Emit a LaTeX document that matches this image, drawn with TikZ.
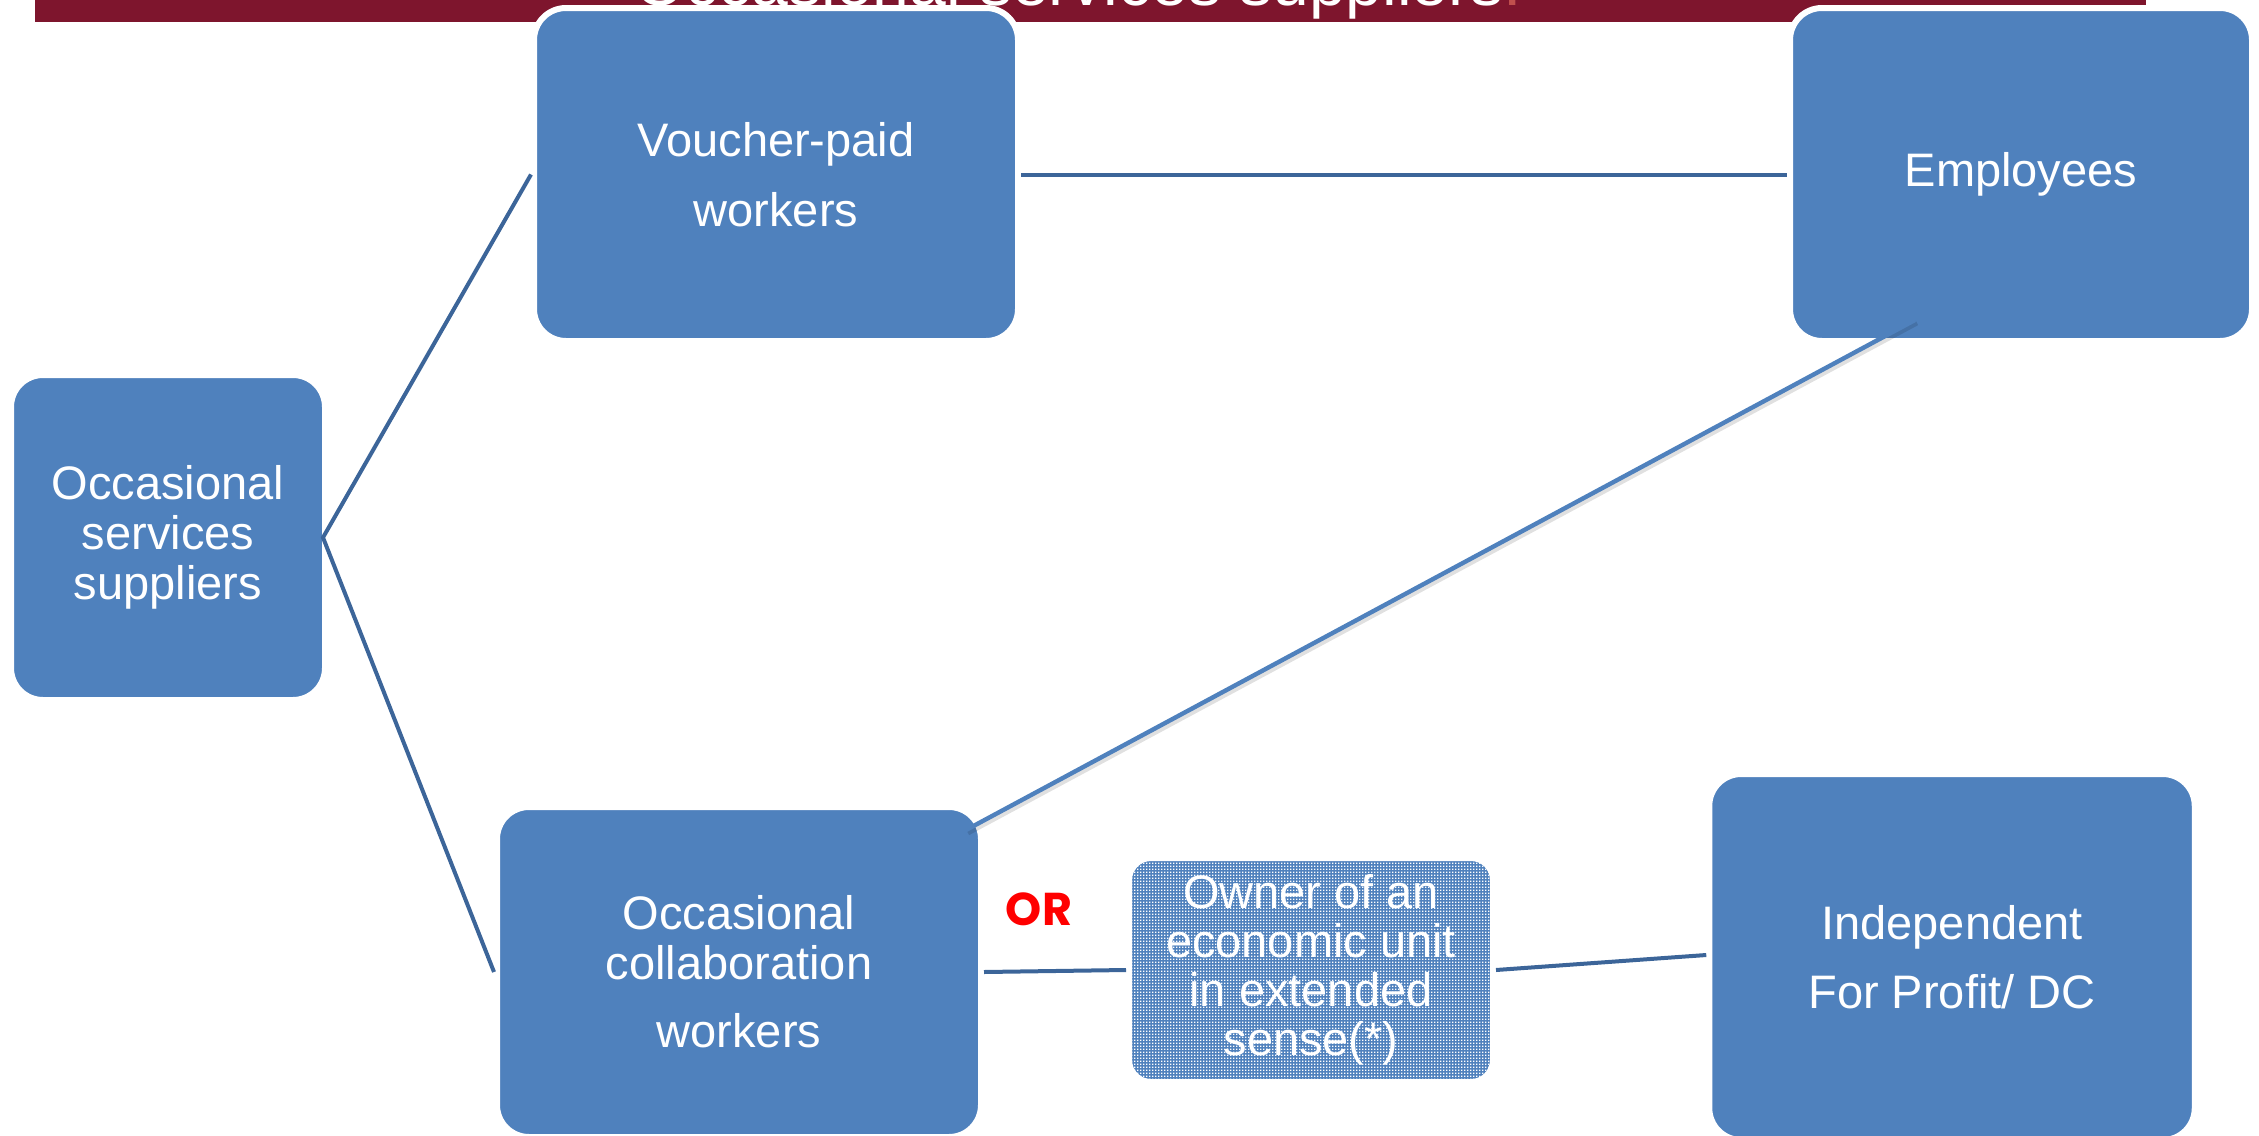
\documentclass[tikz,border=0pt]{standalone}
\usepackage{fontspec}
\setmainfont{Liberation Sans}
\newfontfamily\orfont{Poppins}
\usetikzlibrary{calc,patterns}
\definecolor{boxblue}{HTML}{4F81BD}
\definecolor{linkblue}{HTML}{3C6599}
\definecolor{banner}{HTML}{7E152D}
\definecolor{dotred}{HTML}{C0504D}
\pgfdeclarepatternformonly{whitesquares}{\pgfpointorigin}{\pgfqpoint{1.65pt}{1.65pt}}{\pgfqpoint{1.65pt}{1.65pt}}{%
  \pgfpathrectangle{\pgfpointorigin}{\pgfqpoint{0.85pt}{0.85pt}}%
  \pgfusepath{fill}%
}
\tikzset{
  box/.style={draw=white, line width=3pt, fill=boxblue, rounded corners=16pt,
    inner sep=0pt, align=center, text=white,
    font=\fontsize{23.5}{25}\selectfont},
  hatchbox/.style={draw=white, line width=3pt, preaction={fill=boxblue},
    pattern=whitesquares, pattern color=white, rounded corners=11pt,
    inner sep=0pt, align=center, text=white,
    font=\fontsize{23.5}{24.5}\selectfont},
  link/.style={draw=linkblue, line width=2pt},
  longlink/.style={draw=boxblue, line width=2.2pt},
  shadowlink/.style={draw=black, opacity=0.12, line width=2.4pt},
}
\begin{document}
\begin{tikzpicture}[x=0.5pt,y=-0.5pt]
\useasboundingbox (0,0) rectangle (2259,1135);
% banner with title
\fill[banner] (35,0) rectangle (2146,22);
\node[anchor=base west, inner sep=0pt, text=white, font=\fontsize{33}{33}\selectfont]
  (title) at (634,5) {Occasional services suppliers{\color{dotred}.}};
% boxes
\node[box, minimum width=157pt, minimum height=162.5pt] (sup) at (168,537.5)
  {Occasional\\services\\suppliers};
\node[box, minimum width=242pt, minimum height=166.5pt,
  font=\fontsize{23.5}{35}\selectfont] (vou) at (776,174.5)
  {Voucher-paid\\workers};
\node[box, minimum width=231pt, minimum height=166.5pt] (emp) at (2021,174.5)
  {Employees};
\node[box, minimum width=242pt, minimum height=165pt] (occ) at (739,972)
  {Occasional\\collaboration\\[9pt]workers};
\node[hatchbox, minimum width=182pt, minimum height=112pt] (own) at (1311,970)
  {Owner of an\\economic unit\\in extended\\sense(*)};
\node[box, minimum width=242.75pt, minimum height=183pt,
  font=\fontsize{23.5}{34.5}\selectfont] (ind) at (1952,957)
  {Independent\\For Profit/ DC};
\node[text=red, inner sep=0pt, font=\orfont\bfseries\fontsize{23}{23}\selectfont]
  (or) at (1039,909) {OR};
% connectors
\coordinate (fork) at ($(sup.east)+(-5,0)$);
\draw[link] (vou.west) -- (fork) -- (occ.west);
\draw[link] (vou.east) -- (emp.west);
\draw[link] (occ.east) -- (own.west);
\draw[link] (own.east) -- ($(ind.west)+(0,-2)$);
\coordinate (d1) at ($(emp.center)+(-106,145.5)$);
\coordinate (d2) at ($(occ.center)+(227,-142)$);
\draw[shadowlink] ($(d1)+(2,3)$) -- ($(d2)+(2,3)$);
\draw[longlink] (d1) -- (d2);
\end{tikzpicture}
\end{document}
